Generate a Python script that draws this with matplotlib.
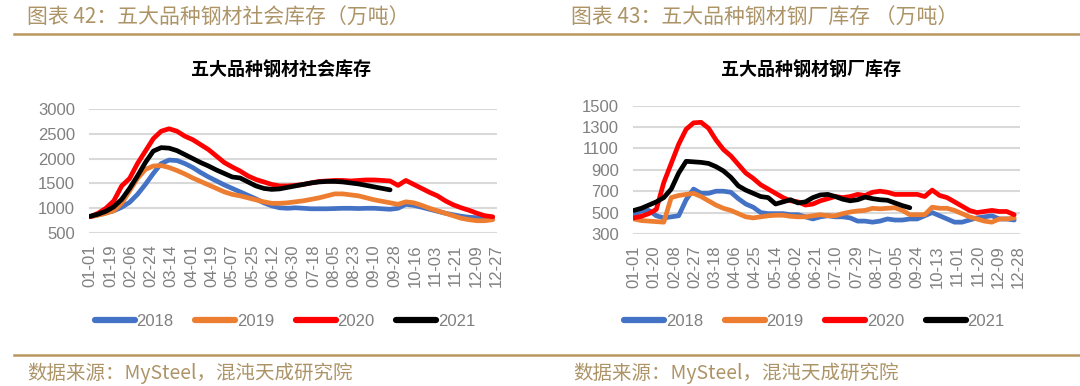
import matplotlib
matplotlib.use("Agg")
import matplotlib.pyplot as plt
from matplotlib.lines import Line2D

plt.rcParams["font.family"] = ["Liberation Sans", "Noto Sans CJK SC", "DejaVu Sans"]

# weekly readings, one value every 7 days starting 01-01
social_2018 = [830, 870, 910, 950, 1020, 1120, 1280, 1480, 1700, 1900, 1970, 1960, 1900,
               1820, 1720, 1630, 1550, 1470, 1400, 1330, 1260, 1190, 1110, 1050, 1010, 1000,
               1010, 1000, 990, 990, 990, 995, 1000, 1000, 995, 1000, 1000, 990, 980, 1000,
               1080, 1060, 1020, 980, 940, 900, 870, 840, 820, 810, 800, 790]
social_2019 = [830, 860, 900, 950, 1100, 1350, 1600, 1780, 1850, 1860, 1820, 1760, 1690,
               1610, 1540, 1470, 1400, 1330, 1280, 1250, 1210, 1170, 1130, 1100, 1100, 1110,
               1130, 1150, 1180, 1210, 1250, 1290, 1290, 1270, 1250, 1210, 1170, 1140, 1110,
               1080, 1130, 1110, 1060, 1000, 950, 900, 850, 800, 770, 750, 750, 770]
social_2020 = [830, 900, 1000, 1150, 1450, 1600, 1900, 2150, 2400, 2550, 2600, 2550, 2450,
               2380, 2280, 2180, 2050, 1920, 1830, 1750, 1650, 1580, 1530, 1480, 1450, 1450,
               1460, 1480, 1510, 1540, 1550, 1560, 1560, 1550, 1560, 1570, 1570, 1560, 1550,
               1460, 1560, 1480, 1400, 1320, 1250, 1150, 1070, 1010, 960, 900, 850, 830]
social_2021 = [840, 880, 940, 1030, 1180, 1400, 1650, 1920, 2150, 2220, 2210, 2160, 2080,
               2000, 1920, 1850, 1770, 1700, 1630, 1610, 1530, 1450, 1400, 1380, 1390, 1420,
               1450, 1480, 1510, 1530, 1540, 1540, 1530, 1510, 1490, 1460, 1430, 1400, 1370]

mill_2018 = [480, 515, 520, 470, 450, 460, 470, 620, 720, 680, 680, 700, 700, 690, 630,
             580, 550, 500, 490, 490, 490, 480, 480, 460, 440, 460, 470, 460, 460, 450,
             420, 420, 410, 420, 440, 430, 430, 440, 440, 470, 500, 470, 440, 410, 410,
             430, 450, 460, 470, 440, 440, 430]
mill_2019 = [440, 425, 420, 415, 410, 640, 660, 670, 680, 650, 610, 570, 540, 520, 490,
             460, 450, 460, 470, 475, 475, 465, 460, 460, 470, 480, 470, 470, 490, 505,
             515, 520, 540, 535, 540, 545, 520, 480, 480, 480, 550, 540, 540, 520, 490,
             460, 440, 420, 410, 440, 440, 450]
mill_2020 = [450, 465, 490, 530, 780, 960, 1140, 1280, 1340, 1345, 1290, 1180, 1090, 1030,
             950, 870, 820, 760, 720, 680, 640, 610, 600, 570, 580, 610, 630, 650, 640,
             650, 670, 660, 690, 700, 690, 670, 670, 670, 670, 650, 710, 660, 640, 600,
             560, 520, 500, 510, 520, 510, 510, 480]
mill_2021 = [520, 540, 570, 600, 640, 720, 870, 980, 975, 970, 960, 930, 890, 830, 750,
             710, 680, 650, 640, 580, 600, 620, 590, 600, 640, 665, 670, 650, 625, 610,
             620, 645, 630, 620, 615, 590, 565, 545]

years = ["2018", "2019", "2020", "2021"]
colors = ["#4472C4", "#ED7D31", "#FF0000", "#000000"]

social_ticks = ["01-01", "01-19", "02-06", "02-24", "03-14", "04-01", "04-19", "05-07",
                "05-25", "06-12", "06-30", "07-18", "08-05", "08-23", "09-10", "09-28",
                "10-16", "11-03", "11-21", "12-09", "12-27"]
mill_ticks = ["01-01", "01-20", "02-08", "02-27", "03-18", "04-06", "04-25", "05-14",
              "06-02", "06-21", "07-10", "07-29", "08-17", "09-05", "09-24", "10-13",
              "11-01", "11-20", "12-09", "12-28"]

GOLD = "#b8975f"
HEAD = "#ad9467"
GRAY = "#808080"


def draw_panel(ax, series, tick_labels, tick_step, yticks, xmax):
    for vals, c in zip(series, colors):
        ax.plot([7 * i for i in range(len(vals))], vals, color=c, lw=3.4,
                solid_joinstyle="round", solid_capstyle="round", zorder=3)
    ax.set_xlim(-1, xmax)
    ax.set_ylim(yticks[0], yticks[-1])
    ax.set_yticks(yticks)
    ax.set_xticks([tick_step * i for i in range(len(tick_labels))])
    ax.set_xticklabels(tick_labels, rotation=90)
    ax.tick_params(axis="both", length=0, labelsize=12, labelcolor=GRAY)
    ax.tick_params(axis="y", pad=10)
    ax.tick_params(axis="x", pad=8)
    ax.grid(axis="y", color="#d9d9d9", lw=1.5)
    ax.set_axisbelow(True)
    for s in ax.spines.values():
        s.set_visible(False)


fig = plt.figure(figsize=(10.8, 3.86), dpi=100)

ax_social = fig.add_axes([0.0824, 0.396, 0.378, 0.322])
draw_panel(ax_social, [social_2018, social_2019, social_2020, social_2021],
           social_ticks, 18, [500, 1000, 1500, 2000, 2500, 3000], 361)

ax_mill = fig.add_axes([0.586, 0.394, 0.358, 0.332])
draw_panel(ax_mill, [mill_2018, mill_2019, mill_2020, mill_2021],
           mill_ticks, 19, [300, 500, 700, 900, 1100, 1300, 1500], 362)

cjk = ["Noto Sans CJK SC", "DejaVu Sans"]
fig.text(0.025, 0.953, "图表 42：五大品种钢材社会库存（万吨）", family=cjk, fontsize=15,
         color=HEAD, va="center")
fig.text(0.529, 0.953, "图表 43：五大品种钢材钢厂库存 （万吨）", family=cjk, fontsize=15,
         color=HEAD, va="center")
fig.text(0.26, 0.818, "五大品种钢材社会库存", family=cjk, fontsize=13, weight="bold",
         ha="center", va="center")
fig.text(0.751, 0.818, "五大品种钢材钢厂库存", family=cjk, fontsize=13, weight="bold",
         ha="center", va="center")
fig.text(0.025, 0.034, "数据来源：MySteel，混沌天成研究院", family=cjk, fontsize=14,
         color=HEAD, va="center")
fig.text(0.531, 0.034, "数据来源：MySteel，混沌天成研究院", family=cjk, fontsize=14,
         color=HEAD, va="center")

fig.add_artist(Line2D([0.013, 1.0], [0.912, 0.912], color=GOLD, lw=1.8))
fig.add_artist(Line2D([0.013, 1.0], [0.08, 0.08], color=GOLD, lw=1.8))

handles = [Line2D([], [], color=c, lw=4.5, solid_capstyle="round") for c in colors]
for x in (0.264, 0.754):
    fig.legend(handles, years, loc="center", bbox_to_anchor=(x, 0.168), ncol=4,
               frameon=False, fontsize=12, labelcolor=GRAY, handlelength=2.4,
               handletextpad=0.1, columnspacing=1.3)

fig.savefig("out.png", dpi=100)
